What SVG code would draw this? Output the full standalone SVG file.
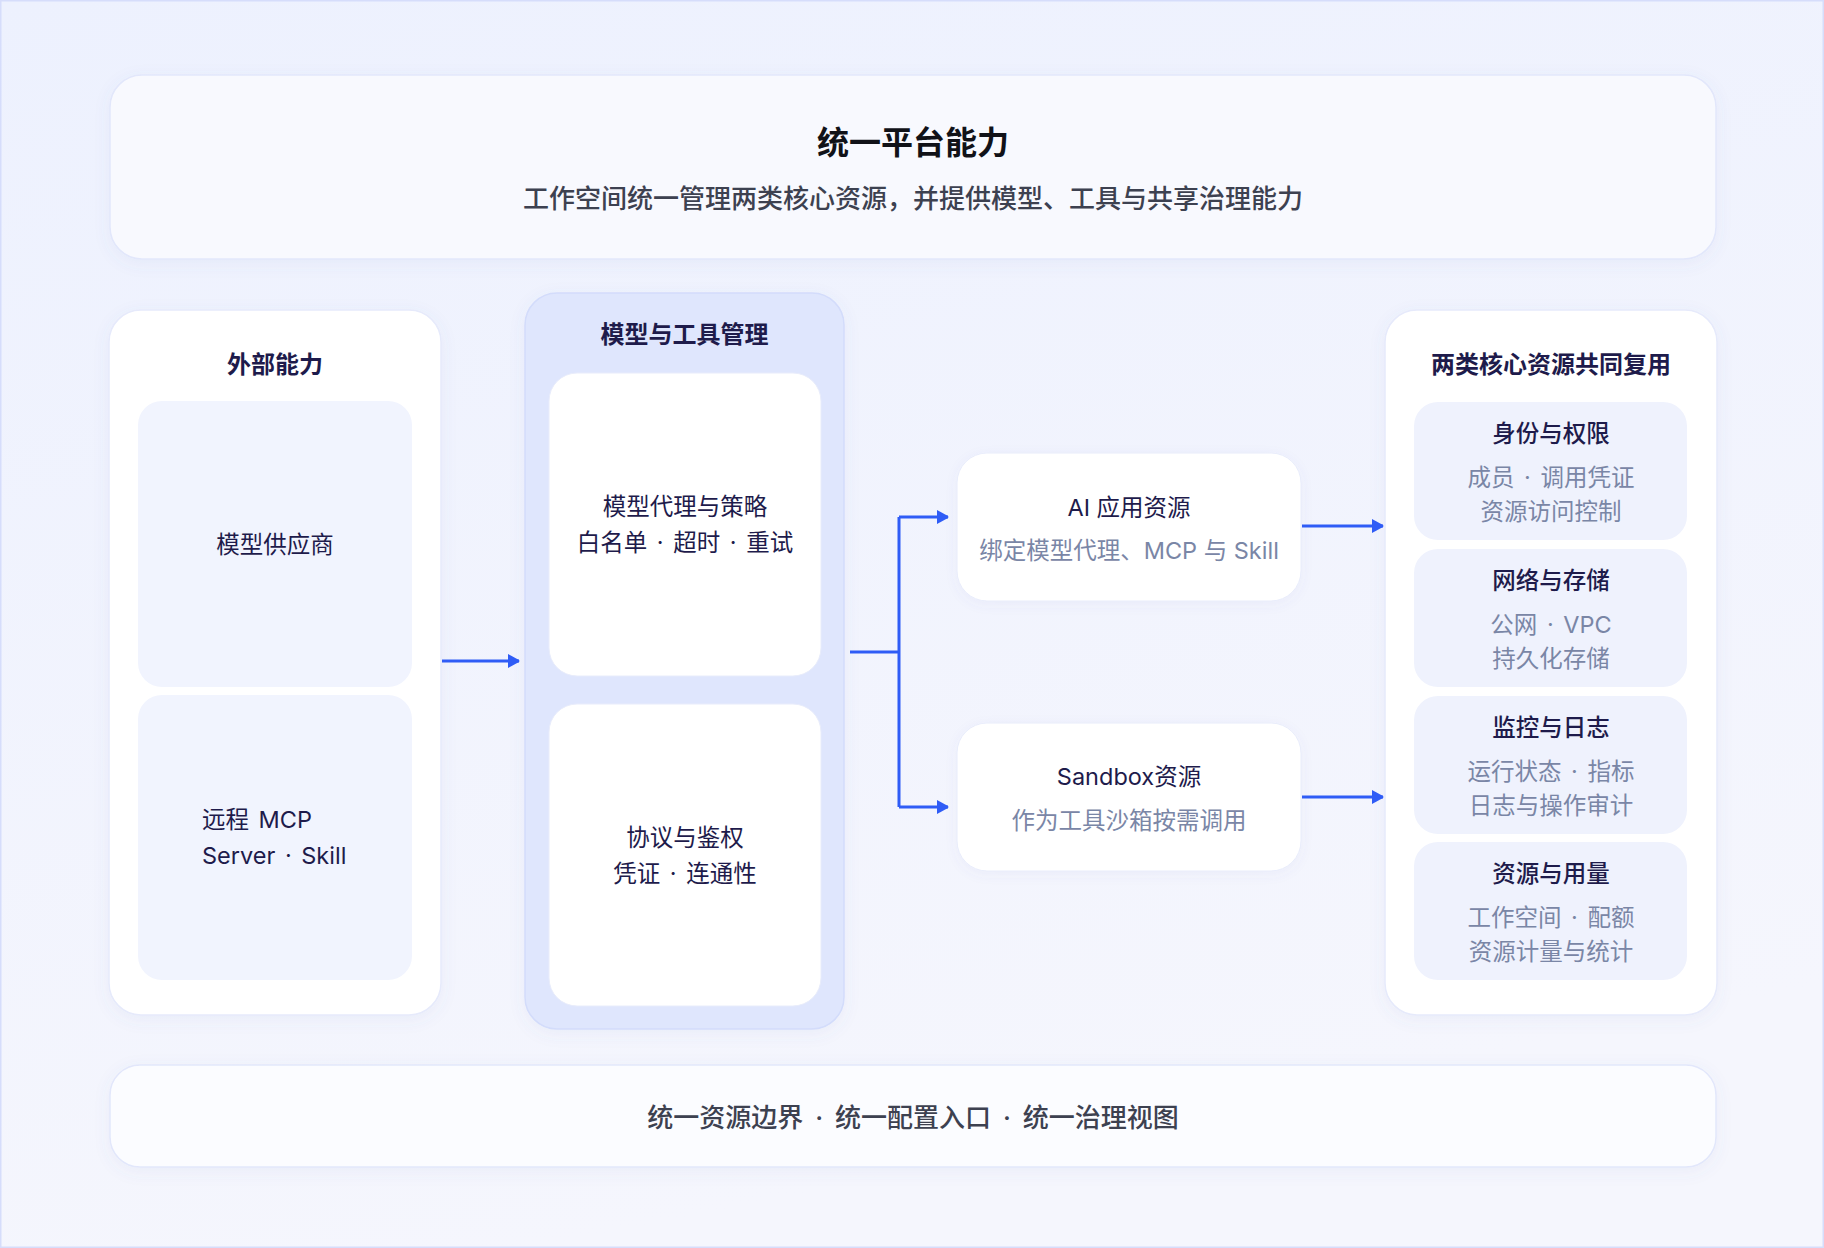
<svg xmlns="http://www.w3.org/2000/svg" width="1824" height="1248" viewBox="0 0 1824 1248">
<defs>
<linearGradient id="bg" x1="0" y1="0" x2="0.3" y2="1">
<stop offset="0" stop-color="#edf1fe"/>
<stop offset="1" stop-color="#f5f6fd"/>
</linearGradient>
<filter id="sh" x="-10%" y="-10%" width="120%" height="130%">
<feDropShadow dx="0" dy="4" stdDeviation="8" flood-color="#5b6bc0" flood-opacity="0.07"/>
</filter>
<filter id="sh2" x="-10%" y="-10%" width="120%" height="130%">
<feDropShadow dx="0" dy="3" stdDeviation="6" flood-color="#5b6bc0" flood-opacity="0.06"/>
</filter>
<marker id="ah" markerUnits="userSpaceOnUse" markerWidth="14" markerHeight="16" refX="11" refY="7" orient="auto">
<path d="M0,0 L11,6 Q12,7 11,8 L0,14 Z" fill="#2f5cf6"/>
</marker>
<style>
text{font-family:"Inter","Noto Sans CJK SC",sans-serif;text-anchor:middle;dominant-baseline:central}
.panel{fill:#f8f9fe;stroke:#e2e7fb;stroke-width:1.5}
.col{fill:#ffffff;stroke:#e6eafb;stroke-width:1.5}
.mid{fill:#dfe6fd;stroke:#d3dcfb;stroke-width:1.5}
.lcard{fill:#f1f4fe}
.rcard{fill:#eff2fd}
.wcard{fill:#ffffff;stroke:#e8ecfb;stroke-width:1}
.h1{font-size:32px;font-weight:700;fill:#111218}
.sub{font-size:26px;font-weight:500;fill:#3d4150}
.hdr{font-size:24px;font-weight:700;fill:#1e1b4b}
.t{font-size:23.5px;font-weight:400;fill:#1e1b4b}
.tm{font-size:23.5px;font-weight:500;fill:#1e1b4b}
.g{font-size:23.5px;font-weight:400;fill:#7a86a6}
.ws{word-spacing:3px}
.wsb{word-spacing:5px}
.ln{fill:none;stroke:#2f5cf6;stroke-width:3}
</style>
</defs>
<rect x="0.75" y="0.75" width="1822.5" height="1246.5" fill="url(#bg)" stroke="#d6ddfb" stroke-width="1.5"/>

<g id="top">
<rect class="panel" x="110" y="75" width="1606" height="184" rx="32" filter="url(#sh)"/>
<text class="h1" x="913" y="142">统一平台能力</text>
<text class="sub" x="913" y="198">工作空间统一管理两类核心资源，并提供模型、工具与共享治理能力</text>
</g>

<g id="external">
<rect class="col" x="109" y="310" width="332" height="705" rx="32" filter="url(#sh)"/>
<text class="hdr" x="275" y="364">外部能力</text>
</g>
<g id="provider">
<rect class="lcard" x="138" y="401" width="274" height="286" rx="24"/>
<text class="t" x="275" y="544">模型供应商</text>
</g>
<g id="remote-mcp">
<rect class="lcard" x="138" y="695" width="274" height="285" rx="24"/>
<text class="t ws" x="202" y="819" style="text-anchor:start">远程 MCP</text>
<text class="t ws" x="202" y="855" style="text-anchor:start">Server · Skill</text>
</g>

<g id="management">
<rect class="mid" x="525" y="293" width="319" height="736" rx="32" filter="url(#sh)"/>
<text class="hdr" x="684.5" y="334">模型与工具管理</text>
</g>
<g id="proxy">
<rect class="wcard" x="549" y="373" width="272" height="303" rx="28"/>
<text class="t" x="685" y="506">模型代理与策略</text>
<text class="t ws" x="685" y="542">白名单 · 超时 · 重试</text>
</g>
<g id="auth">
<rect class="wcard" x="549" y="704" width="272" height="302" rx="28"/>
<text class="t" x="685" y="837">协议与鉴权</text>
<text class="t ws" x="685" y="873">凭证 · 连通性</text>
</g>

<g id="ai-app">
<rect class="wcard" x="957" y="453" width="344" height="148" rx="30" filter="url(#sh2)"/>
<text class="t" x="1129" y="507">AI 应用资源</text>
<text class="g" x="1129" y="550">绑定模型代理、MCP 与 Skill</text>
</g>
<g id="sandbox">
<rect class="wcard" x="957" y="723" width="344" height="148" rx="30" filter="url(#sh2)"/>
<text class="t" x="1129" y="776">Sandbox资源</text>
<text class="g" x="1129" y="820">作为工具沙箱按需调用</text>
</g>

<g id="shared">
<rect class="col" x="1385" y="310" width="332" height="705" rx="32" filter="url(#sh)"/>
<text class="hdr" x="1551" y="364">两类核心资源共同复用</text>
</g>
<g id="identity">
<rect class="rcard" x="1414" y="402" width="273" height="138" rx="24"/>
<text class="tm" x="1551" y="433">身份与权限</text>
<text class="g ws" x="1551" y="477">成员 · 调用凭证</text>
<text class="g" x="1551" y="511">资源访问控制</text>
</g>
<g id="network">
<rect class="rcard" x="1414" y="549" width="273" height="138" rx="24"/>
<text class="tm" x="1551" y="580">网络与存储</text>
<text class="g ws" x="1551" y="624">公网 · VPC</text>
<text class="g" x="1551" y="658">持久化存储</text>
</g>
<g id="monitor">
<rect class="rcard" x="1414" y="696" width="273" height="138" rx="24"/>
<text class="tm" x="1551" y="727">监控与日志</text>
<text class="g ws" x="1551" y="771">运行状态 · 指标</text>
<text class="g" x="1551" y="805">日志与操作审计</text>
</g>
<g id="usage">
<rect class="rcard" x="1414" y="842" width="273" height="138" rx="24"/>
<text class="tm" x="1551" y="873">资源与用量</text>
<text class="g ws" x="1551" y="917">工作空间 · 配额</text>
<text class="g" x="1551" y="951">资源计量与统计</text>
</g>

<g id="bottom">
<rect class="panel" x="110" y="1065" width="1606" height="102" rx="30" style="fill:#fbfcff" filter="url(#sh)"/>
<text class="sub wsb" x="913" y="1117">统一资源边界 · 统一配置入口 · 统一治理视图</text>
</g>

<g id="connectors">
<path class="ln" d="M442,661 H519" marker-end="url(#ah)"/>
<path class="ln" d="M850,652 H899"/>
<path class="ln" d="M899,517 V807"/>
<path class="ln" d="M899,517 H948" marker-end="url(#ah)"/>
<path class="ln" d="M899,807 H948" marker-end="url(#ah)"/>
<path class="ln" d="M1302,526 H1383" marker-end="url(#ah)"/>
<path class="ln" d="M1302,797 H1383" marker-end="url(#ah)"/>
</g>
</svg>
